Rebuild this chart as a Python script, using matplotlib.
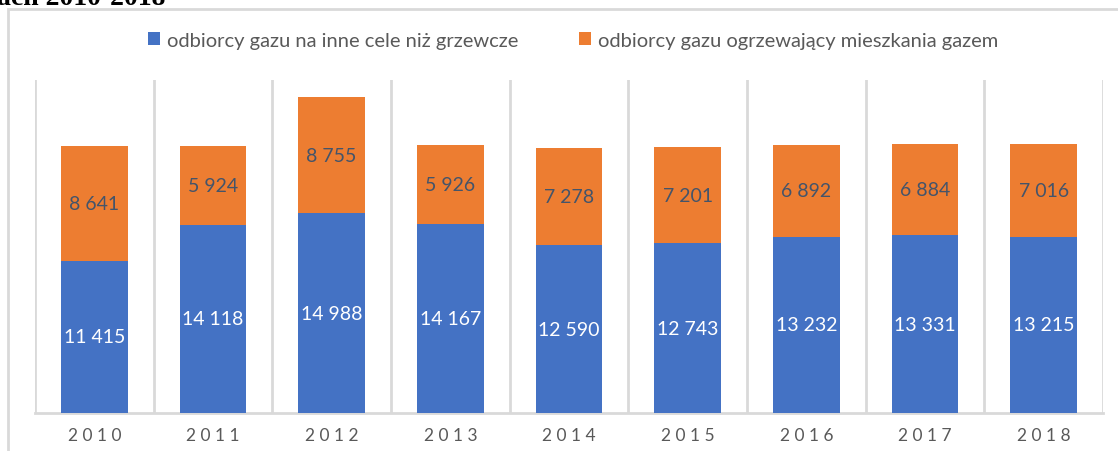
import matplotlib.pyplot as plt
from matplotlib.patches import Rectangle

lata = ["2010", "2011", "2012", "2013", "2014", "2015", "2016", "2017", "2018"]
inne_cele = [11415, 14118, 14988, 14167, 12590, 12743, 13232, 13331, 13215]
ogrzewanie = [8641, 5924, 8755, 5926, 7278, 7201, 6892, 6884, 7016]
seria1 = "odbiorcy gazu na inne cele niż grzewcze"
seria2 = "odbiorcy gazu ogrzewający mieszkania gazem"

niebieski = "#4472C4"
pomaranczowy = "#ED7D31"
szary = "#D9D9D9"

W, H = 1118, 452
fig = plt.figure(figsize=(W / 100, H / 100), dpi=100)
plt.rcParams['font.family'] = ['Lato', 'DejaVu Sans']

# ramka wykresu (wychodzi poza obraz)
fig.patches.append(Rectangle((8 / W, -0.1), 1.2, 1 - 10 / H + 0.1, transform=fig.transFigure,
                             fill=False, edgecolor=szary, linewidth=2))
fig.text(-3 / W, 1 - 5 / H, "ach 2010-2018", family="Liberation Serif", weight="bold",
         fontsize=20, va="baseline", ha="left", color="black")

ax = fig.add_axes([35 / W, 1 - 414 / H, (1103 - 35) / W, (414 - 81) / H])
x = range(len(lata))
b1 = ax.bar(x, inne_cele, width=0.56, color=niebieski, label=seria1, zorder=3)
b2 = ax.bar(x, ogrzewanie, width=0.56, bottom=inne_cele, color=pomaranczowy, label=seria2, zorder=3)

fmt = lambda v: f"{v:,}".replace(",", " ")
for i in x:
    ax.text(i, inne_cele[i] / 2, fmt(inne_cele[i]), ha="center", va="center",
            color="white", fontsize=14, zorder=4)
    ax.text(i, inne_cele[i] + ogrzewanie[i] / 2, fmt(ogrzewanie[i]), ha="center", va="center",
            color="#44546A", fontsize=14, zorder=4)

ax.set_xlim(-0.5, len(lata) - 0.5)
ax.set_ylim(0, 25000)
for k in range(len(lata) + 1):
    ax.axvline(k - 0.5, color=szary, linewidth=2, zorder=1)
for s in ["top", "left", "right"]:
    ax.spines[s].set_visible(False)
ax.spines["bottom"].set_color(szary)
ax.spines["bottom"].set_linewidth(2)
ax.set_yticks([])
ax.set_xticks(list(x))
ax.set_xticklabels([" ".join(r) for r in lata], color="#595959", fontsize=12.5)
ax.tick_params(axis="x", length=0, pad=10)

fig.legend(handles=[b1, b2], loc="center", bbox_to_anchor=(573 / W, 1 - 41 / H), ncol=2,
           frameon=False, fontsize=14.5, labelcolor="#595959", handlelength=0.6, handleheight=0.6,
           handletextpad=0.35, columnspacing=3.0)

fig.savefig("out.png", dpi=100)
